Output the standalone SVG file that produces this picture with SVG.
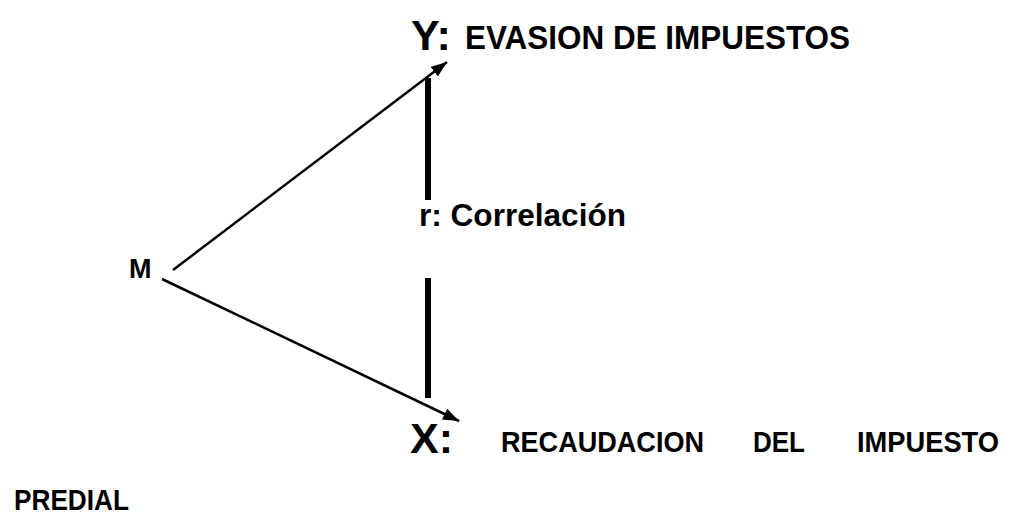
<svg xmlns="http://www.w3.org/2000/svg" width="1034" height="515" viewBox="0 0 1034 515">
<defs>
<marker id="ah" viewBox="0 0 16 12" refX="16" refY="6" markerWidth="16" markerHeight="12" orient="auto" markerUnits="userSpaceOnUse">
<path d="M0,0 L16,6 L0,12 z" fill="#000"/>
</marker>
<style>
text{font-family:"Liberation Sans",Arial,sans-serif;font-weight:bold;fill:#000}
.big{font-size:43px}
.lab{font-size:30px}
.conn{stroke:#000;stroke-width:2.5;fill:none}
.bar{stroke:#000;stroke-width:6;fill:none}
</style>
</defs>
<rect width="1034" height="515" fill="#fff"/>
<g id="connectors">
<line class="conn" x1="173" y1="270" x2="447" y2="62" marker-end="url(#ah)"/>
<line class="conn" x1="162" y1="279" x2="459" y2="421" marker-end="url(#ah)"/>
<line class="bar" x1="428" y1="78" x2="428" y2="200"/>
<line class="bar" x1="428" y1="278" x2="428" y2="398"/>
</g>
<g id="node-y">
<text class="big" x="411" y="50">Y:</text>
<text class="lab" x="465" y="49" style="font-size:33px" textLength="385" lengthAdjust="spacingAndGlyphs">EVASION DE IMPUESTOS</text>
</g>
<g id="node-r">
<text class="lab" x="419" y="226" style="font-size:31px" textLength="207" lengthAdjust="spacingAndGlyphs">r: Correlación</text>
</g>
<g id="node-m">
<text class="lab" x="129" y="278" style="font-size:27px">M</text>
</g>
<g id="node-x">
<text class="big" x="410" y="453">X:</text>
<text class="lab" x="501" y="452" textLength="203" lengthAdjust="spacingAndGlyphs">RECAUDACION</text>
<text class="lab" x="753" y="452" textLength="52" lengthAdjust="spacingAndGlyphs">DEL</text>
<text class="lab" x="857" y="452" textLength="142" lengthAdjust="spacingAndGlyphs">IMPUESTO</text>
<text class="lab" x="14" y="510" style="font-size:29px" textLength="115" lengthAdjust="spacingAndGlyphs">PREDIAL</text>
</g>
</svg>
